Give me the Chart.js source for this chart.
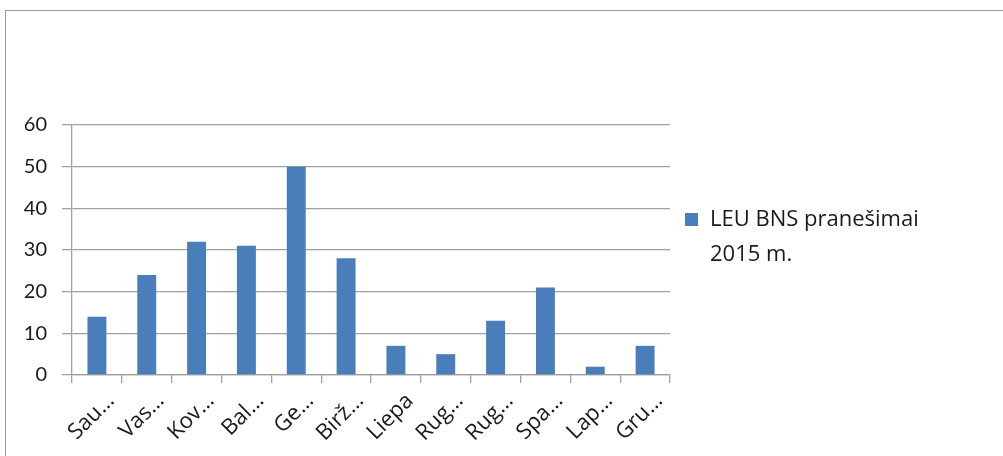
<!DOCTYPE html>
<html>
<head>
<meta charset="utf-8">
<script src="https://cdn.jsdelivr.net/npm/chart.js@4.4.0/dist/chart.umd.min.js"></script>
<style>
    html, body { margin: 0; padding: 0; background: #fff; overflow: hidden; }
    #wrap { position: relative; width: 1003px; height: 456px; }
    #frame { position: absolute; left: 5px; top: 10px; width: 1100px; height: 500px; border: 1.5px solid #9a9a9a; }
    #chartBox { position: absolute; left: 0; top: 0; width: 1003px; height: 456px; }
    #legend { position: absolute; left: 685px; top: 200px; font-family: 'Open Sans', sans-serif; font-size: 22px; line-height: 35px; color: #1a1a1a; }
    #legend .sw { position: absolute; left: 0; top: 13px; width: 13px; height: 13px; background: #4a7ebb; }
    #legend .txt { margin-left: 25px; }
</style>
</head>
<body>
<div id="wrap">
    <div id="frame"></div>
    <div id="chartBox"><canvas id="barChart"></canvas></div>
    <div id="legend"><span class="sw"></span><div class="txt">LEU BNS pranešimai<br>2015 m.</div></div>
</div>
<script>
const months = ['Sau…', 'Vas…', 'Kov…', 'Bal…', 'Ge…', 'Birž…', 'Liepa', 'Rug…', 'Rug…', 'Spa…', 'Lap…', 'Gru…'];
const reports = [14, 24, 32, 31, 50, 28, 7, 5, 13, 21, 2, 7];
const yTicks = [0, 10, 20, 30, 40, 50, 60];
const seriesName = 'LEU BNS pranešimai 2015 m.';

let barChart;

function BarChart() {
    const ctx = document.getElementById('barChart').getContext('2d');
    const gridColor = '#a0a0a0';

    const data = {
        labels: months,
        datasets: [
            {
                label: seriesName,
                data: reports,
                backgroundColor: '#4a7ebb',
                barPercentage: 0.38,
                categoryPercentage: 1
            }
        ]
    };

    const options = {
        responsive: true,
        maintainAspectRatio: false,
        animation: false,
        layout: {
            padding: { top: 125, right: 333, bottom: 0, left: 0 }
        },
        plugins: {
            legend: { display: false },
            tooltip: { enabled: false }
        },
        scales: {
            y: {
                min: 0,
                max: 60,
                afterFit: (s) => { s.width = 72; },
                afterBuildTicks: (s) => { s.ticks = yTicks.map(v => ({ value: v })); },
                grid: { color: gridColor, lineWidth: 1.3, tickLength: 10 },
                border: { color: gridColor, width: 1.3 },
                ticks: { color: '#1a1a1a', padding: 15, font: { family: 'Lato', size: 20 } }
            },
            x: {
                afterFit: (s) => { s.height = 81; },
                grid: { drawOnChartArea: false, color: gridColor, lineWidth: 1.3, tickLength: 8, offset: true },
                border: { color: gridColor, width: 1.3 },
                ticks: {
                    color: '#1a1a1a',
                    minRotation: 45,
                    maxRotation: 45,
                    autoSkip: false,
                    padding: 5,
                    labelOffset: 14,
                    font: { family: 'Open Sans', size: 22 }
                }
            }
        }
    };

    barChart = new Chart(ctx, { type: 'bar', data: data, options: options });
}

BarChart();
</script>
</body>
</html>
